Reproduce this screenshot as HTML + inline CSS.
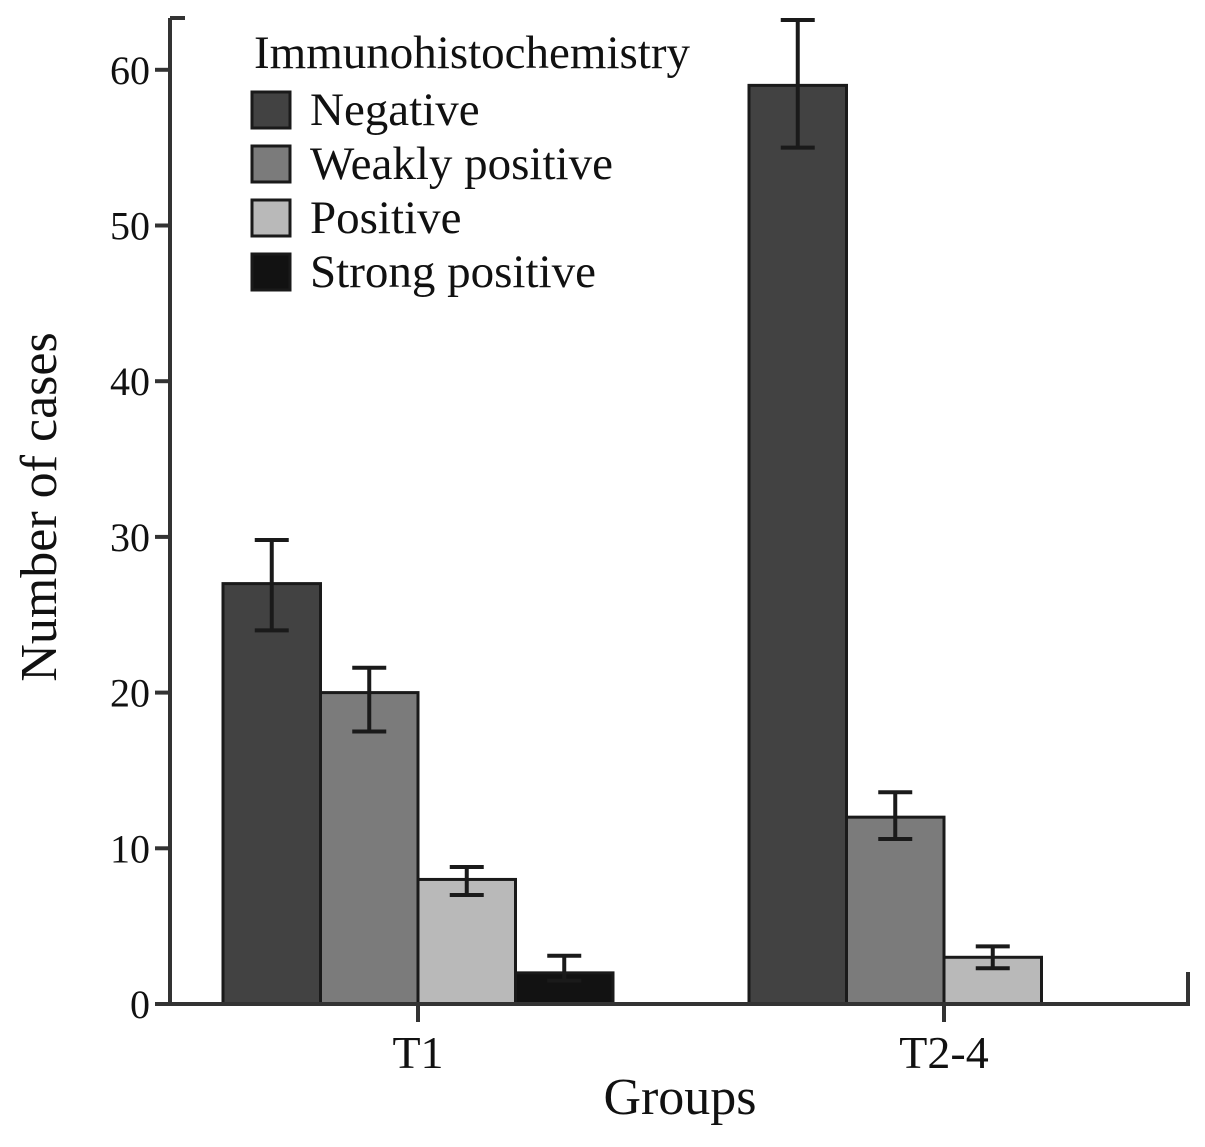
<!DOCTYPE html>
<html><head><meta charset="utf-8"><style>
html,body{margin:0;padding:0;background:#fff;}
svg{display:block;font-family:"Liberation Serif",serif;}
</style></head><body>
<svg id="chart" width="1205" height="1147" viewBox="0 0 1205 1147">
</svg>
<script>
const groups = ["T1", "T2-4"];
const seriesNames = ["Negative", "Weakly positive", "Positive", "Strong positive"];
const colors = ["#424242", "#7b7b7b", "#b9b9b9", "#121212"];
const valuesT1 = [27, 20, 8, 2];
const valuesT24 = [59, 12, 3, 0];
const errLowT1 = [24, 17.5, 7, 1.5];
const errHighT1 = [29.8, 21.6, 8.8, 3.1];
const errLowT24 = [55, 10.6, 2.3, 0];
const errHighT24 = [63.2, 13.6, 3.7, 0];
const yTicks = [0, 10, 20, 30, 40, 50, 60];

const NS = "http://www.w3.org/2000/svg";
const svg = document.getElementById("chart");
const y0 = 1004, pxPerUnit = 15.57;
const yScale = v => y0 - v * pxPerUnit;
const groupCenters = [418, 944];
const barW = 97.5;
const xBar = (g, i) => groupCenters[g] - 2 * barW + i * barW;
function el(tag, attrs, text) {
  const e = document.createElementNS(NS, tag);
  for (const k in attrs) e.setAttribute(k, attrs[k]);
  if (text !== undefined) e.textContent = text;
  svg.appendChild(e);
  return e;
}
const allVals = [valuesT1, valuesT24], lows = [errLowT1, errLowT24], highs = [errHighT1, errHighT24];
for (let g = 0; g < 2; g++) {
  for (let i = 0; i < 4; i++) {
    const v = allVals[g][i];
    if (v <= 0) continue;
    const r = el("rect", {x: xBar(g, i), y: yScale(v), width: barW, height: y0 - yScale(v), fill: colors[i], stroke: "#1a1a1a", "stroke-width": 3});
    
    
    const cx = xBar(g, i) + barW / 2;
    const lo = yScale(lows[g][i]), hi = yScale(highs[g][i]);
    const eb = el("path", {d: `M${cx-17},${hi}H${cx+17}M${cx},${hi}V${lo}M${cx-17},${lo}H${cx+17}`, stroke: "#1a1a1a", "stroke-width": 4, fill: "none"});
    
    
  }
}
const ya = el("path", {d: "M170,18H185M170,18V1004", stroke: "#333", "stroke-width": 4, fill: "none"});


const xa = el("path", {d: "M155,1004H1188V972", stroke: "#333", "stroke-width": 4, fill: "none"});


yTicks.forEach(t => {
  const y = yScale(t);
  const tk = el("line", {x1: 155, x2: 170, y1: y, y2: y, stroke: "#333", "stroke-width": 4});
  
  
  const lb = el("text", {x: 150, y: y + 14, "text-anchor": "end", "font-size": 40, fill: "#111"}, String(t));
  
  
});
groups.forEach((g, i) => {
  const tk = el("line", {x1: groupCenters[i], x2: groupCenters[i], y1: 1004, y2: 1022, stroke: "#333", "stroke-width": 4});
  
  
  const lb = el("text", {x: groupCenters[i], y: 1068, "text-anchor": "middle", "font-size": 46, fill: "#111"}, g);
  
  
});
const xt = el("text", {x: 680, y: 1114, "text-anchor": "middle", "font-size": 52, fill: "#111"}, "Groups");


const yt = el("text", {x: 0, y: 0, transform: "translate(56,507) rotate(-90)", "text-anchor": "middle", "font-size": 52, fill: "#111"}, "Number of cases");


const lt = el("text", {x: 254, y: 68, "font-size": 47, fill: "#111"}, "Immunohistochemistry");


seriesNames.forEach((n, i) => {
  const y = 92 + i * 54;
  const sw = el("rect", {x: 252, y: y, width: 38, height: 36, fill: colors[i], stroke: "#1a1a1a", "stroke-width": 3});
  
  
  const tx = el("text", {x: 310, y: y + 33, "font-size": 47, fill: "#111"}, n);
  
  
});
</script>
</body></html>
